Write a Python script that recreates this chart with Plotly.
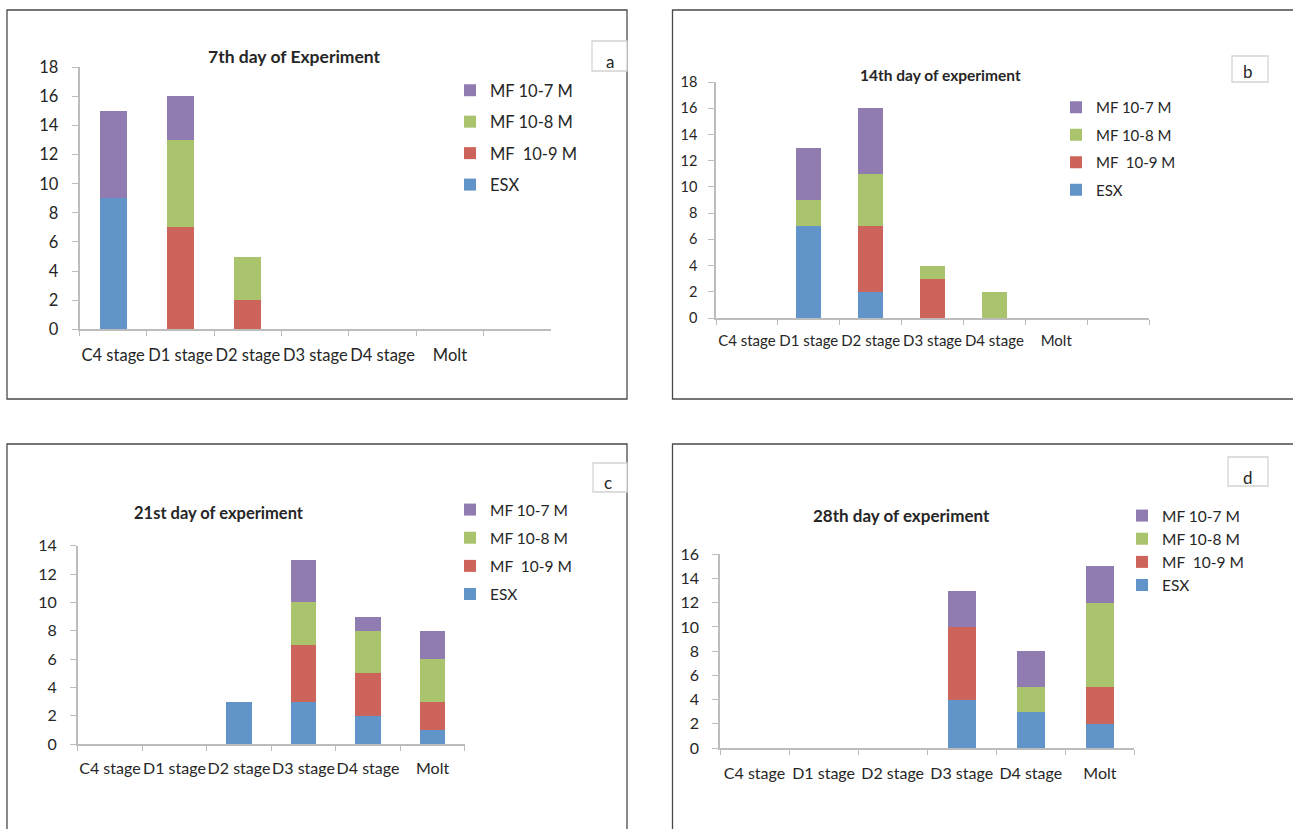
import plotly.graph_objects as go

# ---- data -------------------------------------------------------------
stages = ["C4 stage", "D1 stage", "D2 stage", "D3 stage", "D4 stage", "Molt"]
stages_padded = stages + [" "]          # day 7 / day 14 charts carry an empty 7th slot

series_names = ["ESX", "MF \u00a010-9 M", "MF 10-8 M", "MF 10-7 M"]
series_colors = ["#6195C9", "#CD645B", "#A9C46D", "#917CB1"]

day7_esx = [9, 0, 0, 0, 0, 0, 0]
day7_mf9 = [0, 7, 2, 0, 0, 0, 0]
day7_mf8 = [0, 6, 3, 0, 0, 0, 0]
day7_mf7 = [6, 3, 0, 0, 0, 0, 0]

day14_esx = [0, 7, 2, 0, 0, 0, 0]
day14_mf9 = [0, 0, 5, 3, 0, 0, 0]
day14_mf8 = [0, 2, 4, 1, 2, 0, 0]
day14_mf7 = [0, 4, 5, 0, 0, 0, 0]

day21_esx = [0, 0, 3, 3, 2, 1]
day21_mf9 = [0, 0, 0, 4, 3, 2]
day21_mf8 = [0, 0, 0, 3, 3, 3]
day21_mf7 = [0, 0, 0, 3, 1, 2]

day28_esx = [0, 0, 0, 4, 3, 2]
day28_mf9 = [0, 0, 0, 6, 0, 3]
day28_mf8 = [0, 0, 0, 0, 2, 7]
day28_mf7 = [0, 0, 0, 3, 3, 3]

titles = ["7th day of Experiment", "14th day of experiment",
          "21st day of experiment", "28th day of experiment"]
panel_letters = ["a", "b", "c", "d"]
y_max = [18, 18, 14, 16]

# ---- page geometry (pixels) -------------------------------------------
W, H = 1293, 829
FONT = "Lato, 'Open Sans', sans-serif"
TEXT = "#262626"
AXIS = "#bcbcbc"


def px(x):
    return x / W


def py(y):
    return 1 - y / H


panels = [
    dict(cats=stages_padded, data=[day7_esx, day7_mf9, day7_mf8, day7_mf7],
         plot=(79.5, 551, 329.3, 67.3), frame=(7, 627, 10, 399),
         title_xy=(294, 56), title_size=17.5, tick_size=16.5, cat_size=16.5,
         letter_box=(592, 627, 41, 71), letter_xy=(610, 61),
         legend_xy=(450, 73), legend_size=16.5, legend_gap=7,
         cat_standoff=10, y_standoff=10),
    dict(cats=stages_padded, data=[day14_esx, day14_mf9, day14_mf8, day14_mf7],
         plot=(716, 1149, 318, 82), frame=(672.5, 1300, 10, 399),
         title_xy=(940, 75), title_size=15.5, tick_size=14.5, cat_size=15,
         letter_box=(1232, 1268, 56, 82), letter_xy=(1248, 71),
         legend_xy=(1056, 91), legend_size=15, legend_gap=5,
         cat_standoff=8, y_standoff=8),
    dict(cats=stages, data=[day21_esx, day21_mf9, day21_mf8, day21_mf7],
         plot=(77.7, 464.8, 744, 545.7), frame=(7, 627, 444, 840),
         title_xy=(219, 513), title_size=16.5, tick_size=16, cat_size=16,
         letter_box=(593, 627, 463, 492), letter_xy=(608, 482),
         legend_xy=(450, 493), legend_size=15.5, legend_gap=5,
         cat_standoff=9, y_standoff=10),
    dict(cats=stages, data=[day28_esx, day28_mf9, day28_mf8, day28_mf7],
         plot=(720, 1134.4, 748, 554.3), frame=(672.5, 1300, 444, 840),
         title_xy=(901, 515), title_size=17, tick_size=16, cat_size=16,
         letter_box=(1228, 1268, 457, 486), letter_xy=(1248, 477),
         legend_xy=(1122, 499), legend_size=15.5, legend_gap=0,
         cat_standoff=10, y_standoff=10),
]

fig = go.Figure()
layout = dict(
    width=W, height=H,
    margin=dict(l=0, r=0, t=0, b=0, pad=0, autoexpand=False),
    paper_bgcolor="white", plot_bgcolor="white",
    barmode="stack", bargap=0.6,
    font=dict(family=FONT, color=TEXT),
    shapes=[], annotations=[],
)

for i, p in enumerate(panels):
    k = "" if i == 0 else str(i + 1)
    legend_key = "legend" if i == 0 else f"legend{i + 1}"
    n_series = len(series_names)
    for j, (name, color, values) in enumerate(zip(series_names, series_colors, p["data"])):
        fig.add_trace(go.Bar(
            x=p["cats"], y=values, name=name,
            marker=dict(color=color, line=dict(width=0)),
            xaxis="x" + k, yaxis="y" + k,
            legend=legend_key, legendgroup=f"{name}{i}",
            legendrank=n_series - j,          # top series listed first
            hoverinfo="x+y+name",
        ))

    x0, x1, y0, y1 = p["plot"]
    n = len(p["cats"])
    layout["xaxis" + k] = dict(
        domain=[px(x0), px(x1)], anchor="y" + k,
        type="category", categoryorder="array", categoryarray=p["cats"],
        range=[-0.5, n - 0.5], fixedrange=True, automargin=False,
        tickson="boundaries", ticks="outside", ticklen=5, tickwidth=1.3,
        tickcolor=AXIS, showline=True, linecolor=AXIS, linewidth=1.5,
        showgrid=False, zeroline=False, tickangle=0,
        ticklabelstandoff=p["cat_standoff"],
        tickfont=dict(family=FONT, size=p["cat_size"], color=TEXT),
    )
    layout["yaxis" + k] = dict(
        domain=[py(y0), py(y1)], anchor="x" + k,
        range=[0, y_max[i]], dtick=2, tick0=0, fixedrange=True, automargin=False,
        ticks="outside", ticklen=6, tickwidth=1.3, tickcolor=AXIS,
        showline=True, linecolor=AXIS, linewidth=1.5,
        showgrid=False, zeroline=False,
        ticklabelstandoff=p["y_standoff"],
        tickfont=dict(family=FONT, size=p["tick_size"], color=TEXT),
    )
    lx, ly = p["legend_xy"]
    layout[legend_key] = dict(
        x=px(lx), y=py(ly), xanchor="left", yanchor="top",
        xref="paper", yref="paper",
        traceorder="grouped", tracegroupgap=p["legend_gap"],
        bgcolor="rgba(0,0,0,0)", borderwidth=0,
        font=dict(family=FONT, size=p["legend_size"], color=TEXT),
    )

    # panel frame
    fx0, fx1, fy0, fy1 = p["frame"]
    layout["shapes"].append(dict(
        type="rect", xref="paper", yref="paper",
        x0=px(fx0), x1=px(fx1), y0=py(fy1), y1=py(fy0),
        line=dict(color="#4a4a4a", width=1.3), fillcolor="rgba(0,0,0,0)",
        layer="below"))
    # small letter box
    bx0, bx1, by0, by1 = p["letter_box"]
    layout["shapes"].append(dict(
        type="rect", xref="paper", yref="paper",
        x0=px(bx0), x1=px(bx1), y0=py(by1), y1=py(by0),
        line=dict(color="#d4d4d4", width=1.3), fillcolor="white"))
    lxl, lyl = p["letter_xy"]
    layout["annotations"].append(dict(
        text=panel_letters[i], xref="paper", yref="paper",
        x=px(lxl), y=py(lyl), showarrow=False,
        xanchor="center", yanchor="middle",
        font=dict(family=FONT, size=17, color=TEXT)))
    # chart title
    tx, ty = p["title_xy"]
    layout["annotations"].append(dict(
        text=f"<b>{titles[i]}</b>", xref="paper", yref="paper",
        x=px(tx), y=py(ty), showarrow=False,
        xanchor="center", yanchor="middle",
        font=dict(family=FONT, size=p["title_size"], color=TEXT)))

fig.update_layout(**layout)
fig.write_html("out.html", config=dict(displayModeBar=False))
